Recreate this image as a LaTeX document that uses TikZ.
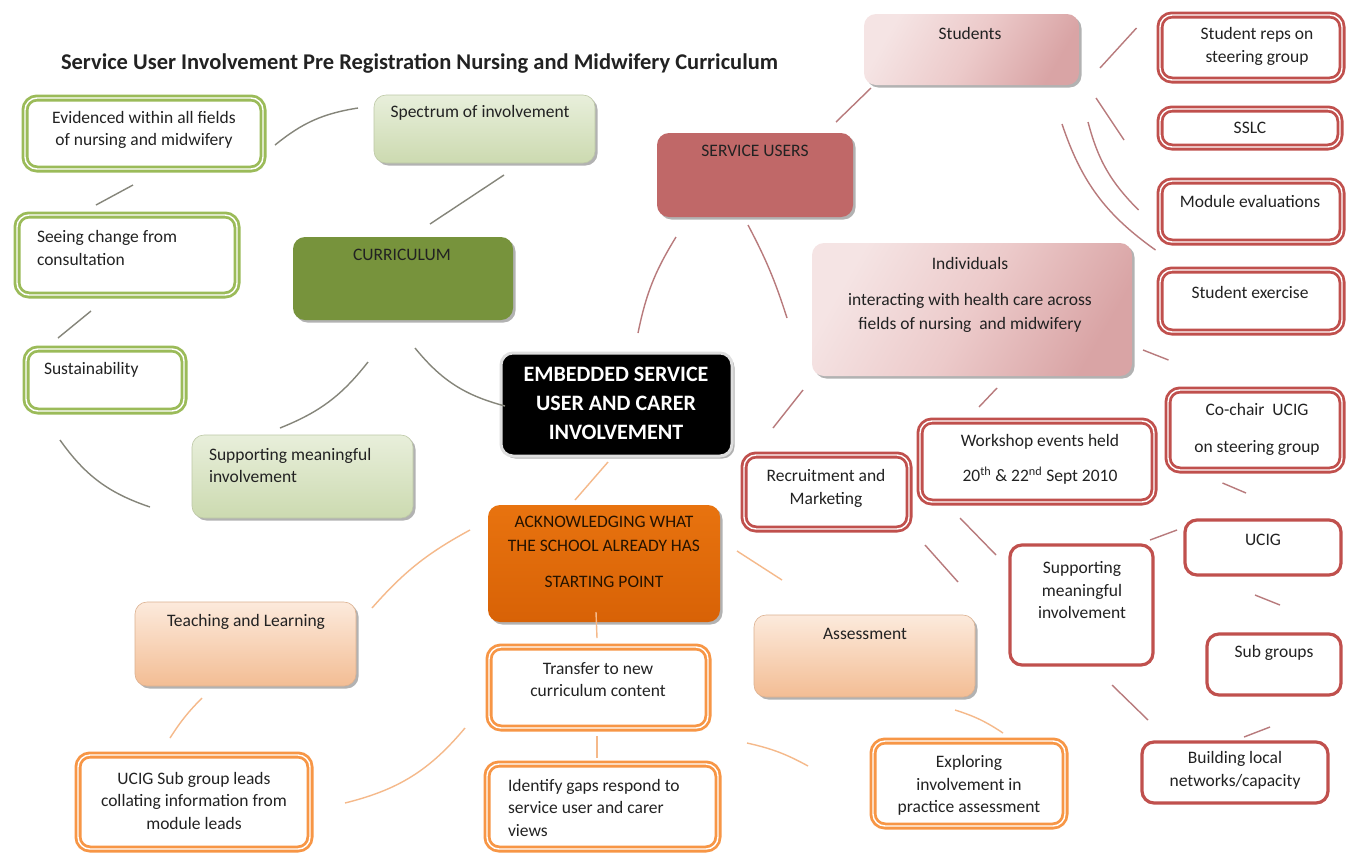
\documentclass[tikz,border=0pt]{standalone}
\usepackage{fontspec}
\setmainfont{Carlito}
\usetikzlibrary{calc,fit,shadows}
\definecolor{gbord}{HTML}{9BBB59}
\definecolor{rbord}{HTML}{C0504D}
\definecolor{obord}{HTML}{F79646}
\definecolor{curfill}{HTML}{77933C}
\definecolor{lgreenT}{HTML}{E8EFDB}
\definecolor{lgreenB}{HTML}{CCDAB0}
\definecolor{servfill}{HTML}{C06868}
\definecolor{pinkL}{HTML}{F5E4E4}
\definecolor{pinkM}{HTML}{ECCACA}
\definecolor{pinkD}{HTML}{D9A4A5}
\definecolor{peachL}{HTML}{FCEADC}
\definecolor{peachD}{HTML}{F3BD94}
\definecolor{ackT}{HTML}{E8730F}
\definecolor{ackB}{HTML}{D86206}
\definecolor{cgray}{HTML}{85857A}
\definecolor{cred}{HTML}{B87A7C}
\definecolor{corange}{HTML}{F5B98A}
\definecolor{txt}{HTML}{222222}
\tikzset{
  every node/.style={inner sep=0pt,outer sep=0pt},
  base/.style={rounded corners=12pt,inner sep=0pt},
  shd/.style={drop shadow={shadow xshift=2.5pt,shadow yshift=-2.5pt,opacity=0.3,fill=black}},
  dbl/.style={base,fill=white,double=white,double distance=1.4pt,line width=2.8pt},
  gbox/.style={dbl,draw=gbord},
  rbox/.style={dbl,draw=rbord},
  obox/.style={dbl,draw=obord},
  rsingle/.style={base,fill=white,draw=rbord,line width=3.2pt},
  lgreen/.style={base,shd,top color=lgreenT,bottom color=lgreenB,draw=lgreenB!80!gray,line width=0.6pt},
  pinkbox/.style={base,shd,shading=axis,left color=pinkL,right color=pinkD,middle color=pinkM,shading angle=60},
  peachbox/.style={base,shd,top color=peachL,bottom color=peachD,draw=peachD!80!gray,line width=0.6pt},
  lbl/.style={text=txt,font=\fontsize{17.5}{22.5}\selectfont,align=center},
  lbll/.style={lbl,align=left,anchor=west},
  cg/.style={draw=cgray,line width=1.4pt},
  cr/.style={draw=cred,line width=1.4pt},
  co/.style={draw=corange,line width=1.4pt},
}
\begin{document}
\begin{tikzpicture}[x=1pt,y=-1pt]
\useasboundingbox[fill=white] (0,0) rectangle (1346,855);
% title
\node[anchor=west,text=txt,font=\fontsize{22.5}{26}\selectfont\bfseries] (title) at (61,63) {Service User Involvement Pre Registration Nursing and Midwifery Curriculum};
% green group
\node[gbox,fit={(25,98)(263,169)}] (evid) {};
\node[gbox,fit={(17,215)(237,295)}] (seeing) {};
\node[gbox,fit={(26,349)(184,411)}] (sustain) {};
\node[lgreen,fit={(374,95)(595,163)}] (spectrum) {};
\node[base,shd,fill=curfill,fit={(293,237)(513,320)}] (curric) {};
\node[lgreen,fit={(192,435)(413,518)}] (suppL) {};
% centre
\node[base,shd,fill=black,draw=gray!25,line width=3pt,fit={(501,353)(732,456)}] (center) {};
% orange group
\node[base,shd,top color=ackT,bottom color=ackB,fit={(488,505)(720,622)}] (ack) {};
\node[peachbox,fit={(135,602)(356,686)}] (teach) {};
\node[obox,fit={(489,647)(708,728)}] (transfer) {};
\node[obox,fit={(487,764)(718,849)}] (identify) {};
\node[obox,fit={(78,755)(310,849)}] (ucigsub) {};
\node[peachbox,fit={(754,615)(975,697)}] (assess) {};
\node[obox,fit={(873,741)(1065,826)}] (explore) {};
% red group
\node[pinkbox,fit={(864,14)(1079,85)}] (students) {};
\node[base,shd,fill=servfill,fit={(657,133)(853,217)}] (servu) {};
\node[pinkbox,fit={(812,243)(1132,376)}] (indiv) {};
\node[rbox,fit={(1160,15)(1342,80)}] (sreps) {};
\node[rbox,fit={(1160,109)(1340,147)}] (sslc) {};
\node[rbox,fit={(1160,181)(1342,242)}] (modev) {};
\node[rbox,fit={(1160,270)(1342,332)}] (sex) {};
\node[rbox,fit={(1168,390)(1342,470)}] (cochair) {};
\node[rbox,fit={(920,421)(1154,502)}] (workshop) {};
\node[rbox,fit={(744,455)(909,529)}] (recruit) {};
\node[rsingle,fit={(1185,520)(1341,575)}] (ucig) {};
\node[rsingle,fit={(1010,545)(1153,665)}] (supR) {};
\node[rsingle,fit={(1207,634)(1341,695)}] (subg) {};
\node[rsingle,fit={(1142,742)(1328,803)}] (build) {};
% connectors: green group
\draw[cg] ($(evid.center)+(131,11.5)$) to[bend left=15] ($(spectrum.center)+(-126.5,-21)$);
\draw[cg] ($(evid.center)+(-11,51.5)$) -- ($(seeing.center)+(-31,-50)$);
\draw[cg] ($(seeing.center)+(-36,56)$) -- ($(sustain.center)+(-47,-42)$);
\draw[cg] ($(sustain.center)+(-45,60)$) to[bend right=18] ($(suppL.center)+(-152.5,30.5)$);
\draw[cg] ($(spectrum.center)+(19.5,46)$) -- ($(curric.center)+(27,-54.5)$);
\draw[cg] ($(curric.center)+(-35,83.5)$) to[bend left=15] ($(suppL.center)+(-22.5,-48.5)$);
\draw[cg] ($(curric.center)+(12,69.5)$) to[bend right=18] ($(center.center)+(-111.5,1.5)$);
% connectors: orange group
\draw[co] ($(center.center)+(-8.5,57.5)$) -- ($(ack.center)+(-29,-63.5)$);
\draw[co] ($(ack.center)+(-134,-33.5)$) to[bend right=10] ($(teach.center)+(126.5,-36)$);
\draw[co] ($(ack.center)+(-8,48.5)$) -- ($(transfer.center)+(-1.5,-49.5)$);
\draw[co] ($(transfer.center)+(-1.5,48.5)$) -- ($(identify.center)+(-5.5,-48.5)$);
\draw[co] ($(teach.center)+(-43.5,54)$) to[bend right=6] ($(ucigsub.center)+(-24,-64)$);
\draw[co] ($(ucigsub.center)+(151,1)$) to[bend right=18] ($(transfer.center)+(-133.5,40.5)$);
\draw[co] ($(ack.center)+(133,-12.5)$) -- ($(assess.center)+(-82.5,-76)$);
\draw[co] ($(assess.center)+(90.5,54)$) to[bend left=8] ($(explore.center)+(34,-50.5)$);
\draw[co] ($(transfer.center)+(148.5,55.5)$) to[bend left=8] ($(explore.center)+(-161,-17.5)$);
% connectors: red group
\draw[cr] ($(center.center)+(21.5,-71.5)$) to[bend left=10] ($(servu.center)+(-79,62)$);
\draw[cr] ($(servu.center)+(81,-53)$) -- ($(students.center)+(-100.5,38.5)$);
\draw[cr] ($(servu.center)+(-7,50)$) to[bend left=5] ($(indiv.center)+(-185,8.5)$);
\draw[cr] ($(students.center)+(128.5,18.5)$) -- ($(sreps.center)+(-114.5,-19.5)$);
\draw[cr] ($(students.center)+(124.5,48.5)$) -- ($(sslc.center)+(-126,12)$);
\draw[cr] ($(students.center)+(116.5,72.5)$) to[bend right=15] ($(modev.center)+(-112.5,-1.5)$);
\draw[cr] ($(students.center)+(90.5,74.5)$) to[bend right=18] ($(sex.center)+(-95.5,-51)$);
\draw[cr] ($(indiv.center)+(-169,80.5)$) -- ($(recruit.center)+(-53.5,-64)$);
\draw[cr] ($(indiv.center)+(25,78.5)$) -- ($(workshop.center)+(-58,-54.5)$);
\draw[cr] ($(indiv.center)+(171,40.5)$) -- ($(cochair.center)+(-86.5,-70)$);
\draw[cr] ($(workshop.center)+(-77,56.5)$) -- ($(supR.center)+(-85.5,-50)$);
\draw[cr] ($(recruit.center)+(98.5,53)$) -- ($(supR.center)+(-123.5,-23)$);
\draw[cr] ($(supR.center)+(68.5,-65)$) -- ($(ucig.center)+(-86,-17.5)$);
\draw[cr] ($(cochair.center)+(-32.5,53)$) -- ($(ucig.center)+(-17,-54.5)$);
\draw[cr] ($(ucig.center)+(-8,47.5)$) -- ($(subg.center)+(6,-59.5)$);
\draw[cr] ($(supR.center)+(30.5,80)$) -- ($(build.center)+(-87,-52.5)$);
\draw[cr] ($(subg.center)+(-4,62.5)$) -- ($(build.center)+(9,-35.5)$);
% texts
\node[lbl] (evid-t) at (144,130) {Evidenced within all fields\\of nursing and midwifery};
\node[lbll] (seeing-t) at (37,248) {Seeing change from\\consultation};
\node[lbll] (sustain-t) at (44,370) {Sustainability};
\node[lbl] (spectrum-t) at (480,113) {Spectrum of involvement};
\node[lbl] (curric-t) at (402,255) {CURRICULUM};
\node[lbll] (suppL-t) at (209,465.5) {Supporting meaningful\\involvement};
\node[lbl,text=white,font=\fontsize{22}{29}\selectfont\bfseries] (center-t) at (616,403) {EMBEDDED SERVICE\\USER AND CARER\\INVOLVEMENT};
\node[lbl,text=black!85!orange,font=\fontsize{17.5}{24}\selectfont] (ack-t) at (604,552) {ACKNOWLEDGING WHAT\\THE SCHOOL ALREADY HAS\\[12pt]STARTING POINT};
\node[lbl] (teach-t) at (246,622) {Teaching and Learning};
\node[lbl] (transfer-t) at (598,679.5) {Transfer to new\\curriculum content};
\node[lbll] (identify-t) at (508,807.5) {Identify gaps respond to\\service user and carer\\views};
\node[lbl] (ucigsub-t) at (194,800.5) {UCIG Sub group leads\\collating information from\\module leads};
\node[lbl] (assess-t) at (865,634) {Assessment};
\node[lbl] (explore-t) at (969,785.5) {Exploring\\involvement in\\practice assessment};
\node[lbl] (students-t) at (970,33) {Students};
\node[lbl] (servu-t) at (755,151) {SERVICE USERS};
\node[lbl,font=\fontsize{17.5}{24}\selectfont] (indiv-t) at (970,295) {Individuals\\[12pt]interacting with health care across\\fields of nursing\ \ and midwifery};
\node[lbl] (sreps-t) at (1257,46.5) {Student reps on\\steering group};
\node[lbl] (sslc-t) at (1250,128) {SSLC};
\node[lbl] (modev-t) at (1250,201) {Module evaluations};
\node[lbl] (sex-t) at (1250,292) {Student exercise};
\node[lbl,font=\fontsize{17.5}{23}\selectfont] (cochair-t) at (1257,429.5) {Co-chair\ \ UCIG\\[14pt]on steering group};
\node[lbl,font=\fontsize{17.5}{23}\selectfont] (workshop-t) at (1040,459.5) {Workshop events held\\[12pt]20\textsuperscript{th} \& 22\textsuperscript{nd} Sept 2010};
\node[lbl] (recruit-t) at (826,488.5) {Recruitment and\\Marketing};
\node[lbl] (ucig-t) at (1263,540) {UCIG};
\node[lbl] (supR-t) at (1082,590.5) {Supporting\\meaningful\\involvement};
\node[lbl] (subg-t) at (1274,653) {Sub groups};
\node[lbl] (build-t) at (1235,770.5) {Building local\\networks/capacity};
\end{tikzpicture}
\end{document}
